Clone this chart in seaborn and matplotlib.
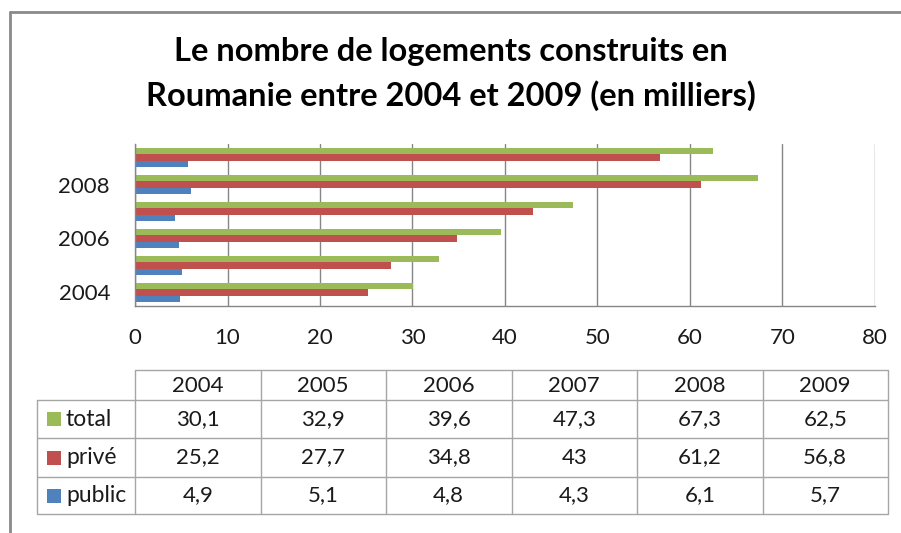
import matplotlib
matplotlib.use("Agg")
import matplotlib.pyplot as plt
import seaborn as sns
import pandas as pd
from matplotlib.lines import Line2D

years = ["2004", "2005", "2006", "2007", "2008", "2009"]
series = ["total", "privé", "public"]
total = [30.1, 32.9, 39.6, 47.3, 67.3, 62.5]
prive = [25.2, 27.7, 34.8, 43.0, 61.2, 56.8]
public = [4.9, 5.1, 4.8, 4.3, 6.1, 5.7]
x_ticks = [0, 10, 20, 30, 40, 50, 60, 70, 80]
y_tick_labels = ["2004", "2006", "2008"]
title = "Le nombre de logements construits en\nRoumanie entre 2004 et 2009 (en milliers)"

colors = {"total": "#9BBB59", "privé": "#C0504D", "public": "#4F81BD"}

sns.set_theme(style="white")
plt.rcParams["font.family"] = ["Lato", "DejaVu Sans"]

W, H = 901, 533
fig = plt.figure(figsize=(W / 100, H / 100), dpi=100)

rows = []
for name, vals in zip(series, [total, prive, public]):
    for y, v in zip(years, vals):
        rows.append({"year": y, "serie": name, "value": v})
df = pd.DataFrame(rows)

def fx(px):
    return px / W

def fy(py):
    return 1 - py / H

ax = fig.add_axes([fx(135), fy(306), fx(875) - fx(135), fy(144) - fy(306)])
sns.barplot(data=df, y="year", x="value", hue="serie", orient="h",
            order=years[::-1], hue_order=series, palette=colors,
            width=0.67, gap=0, ax=ax, legend=False, saturation=1)
for p in ax.patches:
    p.set_edgecolor("none")
ax.set_xlim(0, 80)
ax.set_xticks(x_ticks)
ax.set_xticklabels([str(t) for t in x_ticks], fontsize=16, color="#1A1A1A")
order = years[::-1]
ax.set_yticks([order.index(y) for y in y_tick_labels])
ax.set_yticklabels(y_tick_labels, fontsize=16, color="#1A1A1A")
ax.set_ylim(len(years) - 0.5, -0.5)
ax.set_xlabel("")
ax.set_ylabel("")
ax.grid(axis="x", color="#868686", linewidth=1)
ax.set_axisbelow(True)
for s in ["top", "right"]:
    ax.spines[s].set_visible(False)
for s in ["left", "bottom"]:
    ax.spines[s].set_color("#868686")
    ax.spines[s].set_linewidth(1)
ax.tick_params(axis="x", length=0, pad=16)
ax.tick_params(axis="y", length=0, pad=18)

# title
fig.text(0.5, fy(52), title.split("\n")[0], ha="center", va="center",
         fontsize=23.5, fontweight="bold", color="#000000")
fig.text(0.5, fy(96), title.split("\n")[1], ha="center", va="center",
         fontsize=23.5, fontweight="bold", color="#000000")

# data table
tax = fig.add_axes([0, 0, 1, 1])
tax.set_xlim(0, W)
tax.set_ylim(H, 0)
tax.axis("off")
tax.patch.set_alpha(0)
lc = "#A6A6A6"
x0, x1 = 135, 888
col_w = (x1 - x0) / len(years)
xe = [x0 + i * col_w for i in range(len(years) + 1)]
ye = [370, 400, 438, 477, 514]
rx = 37
tax.plot([x0, x1], [ye[0], ye[0]], color=lc, lw=1)
for yy in ye[1:]:
    tax.plot([rx, x1], [yy, yy], color=lc, lw=1)
tax.plot([rx, rx], [ye[1], ye[-1]], color=lc, lw=1)
for xx in xe:
    tax.plot([xx, xx], [ye[0], ye[-1]], color=lc, lw=1)
for i, y in enumerate(years):
    tax.text((xe[i] + xe[i + 1]) / 2, (ye[0] + ye[1]) / 2 + 1, y,
             ha="center", va="center", fontsize=16, color="#1A1A1A")

def fmt(v):
    return f"{v:g}".replace(".", ",")

for r, (name, vals) in enumerate(zip(series, [total, prive, public])):
    yc = (ye[r + 1] + ye[r + 2]) / 2
    tax.add_patch(plt.Rectangle((47, yc - 7), 14, 14, color=colors[name], lw=0))
    tax.text(66, yc, name, ha="left", va="center", fontsize=16.5, color="#1A1A1A")
    for i, v in enumerate(vals):
        tax.text((xe[i] + xe[i + 1]) / 2, yc, fmt(v), ha="center", va="center",
                 fontsize=16, color="#1A1A1A")

# outer frame (left and top)
fig.add_artist(Line2D([fx(10), fx(10)], [0, fy(12)], color="#8A8A8A", lw=2))
fig.add_artist(Line2D([fx(10), 1], [fy(12), fy(12)], color="#8A8A8A", lw=2))

fig.savefig("out.png", dpi=100)
